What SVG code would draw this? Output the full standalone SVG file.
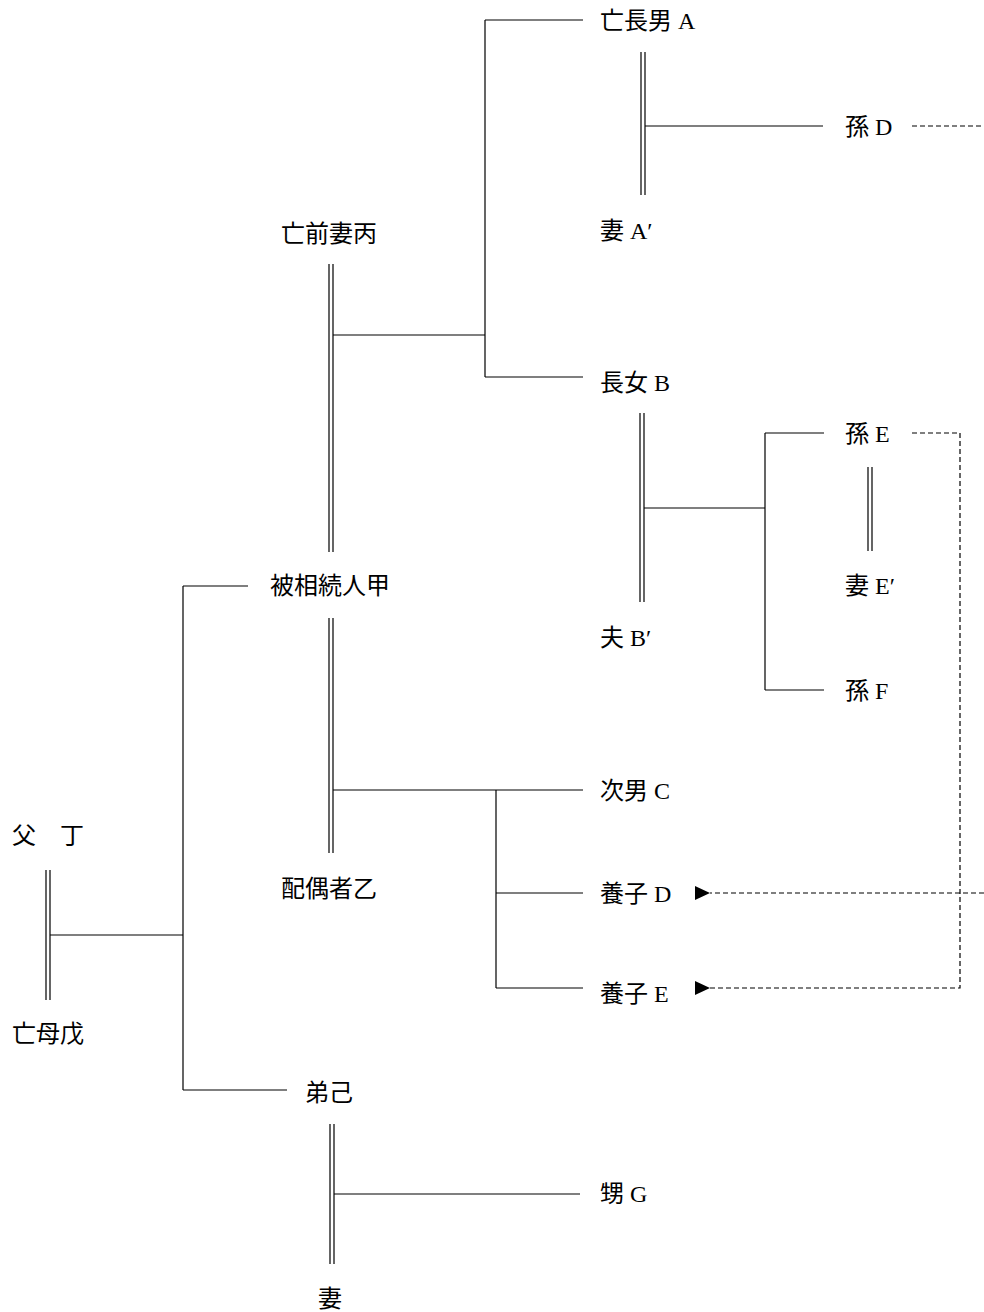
<svg xmlns="http://www.w3.org/2000/svg" width="984" height="1312" viewBox="0 0 984 1312">
<style>
text{font-family:"Liberation Serif","Noto Sans CJK JP",serif;font-size:24px;fill:#000}
.l{stroke:#000;stroke-width:1.2;fill:none}
.d{stroke:#000;stroke-width:1.2;fill:none;stroke-dasharray:5 3}
</style>
<defs>
<marker id="ah" markerWidth="15" markerHeight="14" refX="0" refY="7" orient="auto" markerUnits="userSpaceOnUse" viewBox="0 0 15 14">
<path d="M15,0 L0,7 L15,14 Z" fill="#000"/>
</marker>
</defs>
<rect width="984" height="1312" fill="#fff"/>
<g id="n-a"><text x="600" y="29">亡長男 A</text></g>
<g id="n-mago-d"><text x="845" y="135">孫 D</text></g>
<g id="n-a-wife"><text x="600" y="239">妻 A′</text></g>
<g id="n-hei"><text x="281" y="242">亡前妻丙</text></g>
<g id="n-b"><text x="600" y="391">長女 B</text></g>
<g id="n-mago-e"><text x="845" y="442">孫 E</text></g>
<g id="n-e-wife"><text x="845" y="594">妻 E′</text></g>
<g id="n-kou"><text x="270" y="594">被相続人甲</text></g>
<g id="n-b-husband"><text x="600" y="646">夫 B′</text></g>
<g id="n-mago-f"><text x="845" y="699">孫 F</text></g>
<g id="n-c"><text x="600" y="799">次男 C</text></g>
<g id="n-tei"><text x="12" y="844">父　丁</text></g>
<g id="n-otsu"><text x="281" y="897">配偶者乙</text></g>
<g id="n-yoshi-d"><text x="600" y="902">養子 D</text></g>
<g id="n-yoshi-e"><text x="600" y="1002">養子 E</text></g>
<g id="n-bo"><text x="12" y="1042">亡母戊</text></g>
<g id="n-ki"><text x="305" y="1101">弟己</text></g>
<g id="n-g"><text x="600" y="1202">甥 G</text></g>
<g id="n-ki-wife"><text x="318" y="1307">妻</text></g>
<g id="connectors">
<path class="l" d="M329,264V552M333,264V552"/>
<path class="l" d="M333,335H485M485,20V377M485,20H583M485,377H583"/>
<path class="l" d="M641,52V195M645,52V195"/>
<path class="l" d="M645,126H823"/>
<path class="l" d="M640,413V602M644,413V602"/>
<path class="l" d="M644,508H765M765,433V690M765,433H824M765,690H824"/>
<path class="l" d="M868,467V551M872,467V551"/>
<path class="l" d="M329,618V853M333,618V853"/>
<path class="l" d="M333,790H583M496,790V988M496,893H583M496,988H583"/>
<path class="l" d="M46,870V1000M50,870V1000"/>
<path class="l" d="M50,935H183M183,586V1090M183,586H248M183,1090H287"/>
<path class="l" d="M330,1124V1264M334,1124V1264"/>
<path class="l" d="M334,1194H580"/>
<path class="d" d="M912,126H984"/>
<path class="d" d="M984,893H710" marker-end="url(#ah)"/>
<path class="d" d="M912,433H960V988H710" marker-end="url(#ah)"/>
</g>
</svg>
